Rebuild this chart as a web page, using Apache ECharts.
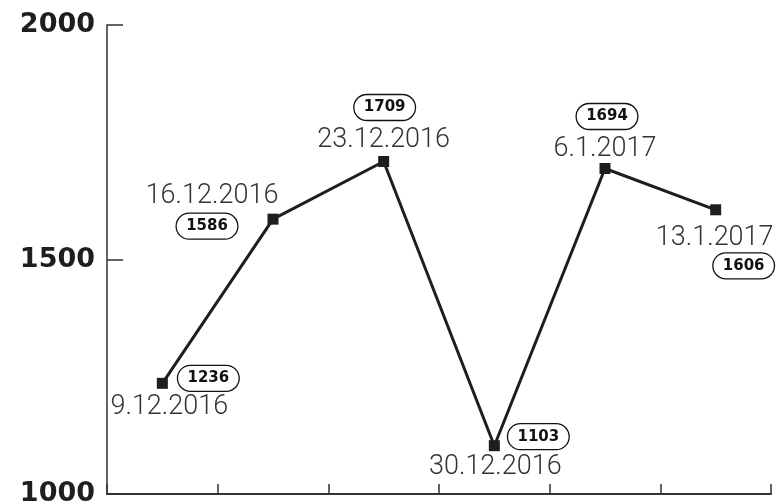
<!DOCTYPE html>
<html><head><meta charset="utf-8">
<script src="https://cdn.jsdelivr.net/npm/echarts@6/dist/echarts.min.js"></script>
<style>html,body{margin:0;padding:0;background:#fff;overflow:hidden}#c{width:776px;height:503px}</style>
</head><body><div id="c"></div>
<script>
const categories = ['9.12.2016','16.12.2016','23.12.2016','30.12.2016','6.1.2017','13.1.2017'];
const values = [1236, 1586, 1709, 1103, 1694, 1606];
const yTicks = [1000, 1500, 2000];

// label placement (layout only)
const dateOffsets = [[7,24],[-61,-23],[0,-21],[1,22],[0,-19],[-1,28]];
const valOffsets = [[46,-5],[-66,7],[1,-54],[44,-9],[2,-52],[28,56]];

const chart = echarts.init(document.getElementById('c'), null, {renderer:'canvas'});
const ink = '#1e1e1e';
chart.setOption({
  animation:false,
  grid:{left:107, right:5, top:25, bottom:9, containLabel:false, outerBoundsMode:'none'},
  xAxis:{type:'category', data:categories, boundaryGap:true,
    axisLine:{lineStyle:{color:'#333', width:2}},
    axisTick:{show:true, interval:0, inside:true, length:10, lineStyle:{color:'#333', width:1.5}},
    axisLabel:{show:false, interval:0}, splitLine:{show:false}},
  yAxis:{type:'value', min:yTicks[0], max:yTicks[yTicks.length-1], interval:yTicks[1]-yTicks[0],
    axisLine:{show:true, lineStyle:{color:'#333', width:1.5}},
    axisTick:{show:true, inside:true, length:16, lineStyle:{color:'#333', width:1.5}},
    axisLabel:{margin:12, fontFamily:'DejaVu Sans', fontWeight:'bold', fontSize:27, color:ink,
      formatter:v=>String(v)},
    splitLine:{show:false}},
  series:[
    {type:'line', data:values.map((v,i)=>({value:v,
        label:{offset:dateOffsets[i]}})),
      symbol:'rect', symbolSize:11, itemStyle:{color:ink},
      lineStyle:{color:ink, width:3},
      label:{show:true, position:'inside', formatter:p=>categories[p.dataIndex],
        fontFamily:'Roboto', fontWeight:300, fontSize:27, color:'#333'},
      z:3},
    {type:'scatter', data:values.map((v,i)=>({value:v,
        label:{offset:valOffsets[i]}})),
      symbol:'circle', symbolSize:0, itemStyle:{color:ink},
      label:{show:true, position:'inside', formatter:p=>String(p.value), opacity:1,
        fontFamily:'DejaVu Sans', fontWeight:'bold', fontSize:15, color:'#111',
        borderColor:'#111', borderWidth:1.3, borderRadius:14, padding:[6,10,5,10]},
      z:4}
  ]
});
</script></body></html>
